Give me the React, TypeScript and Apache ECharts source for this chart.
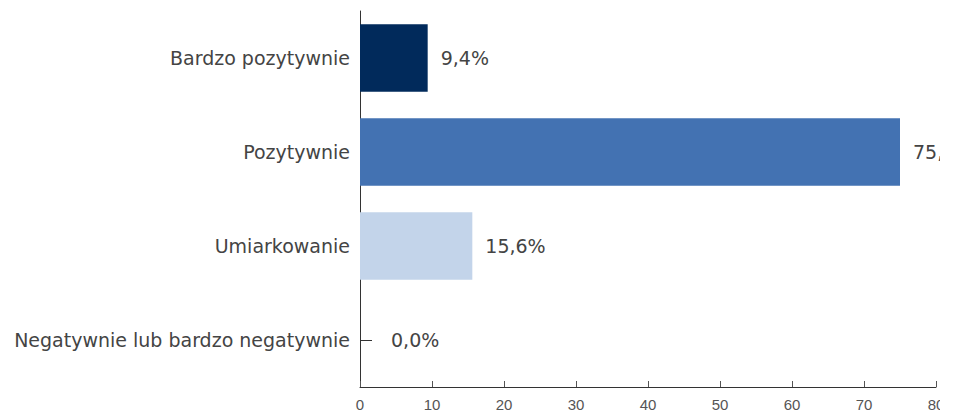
import React, { useEffect, useRef } from "react";
import * as echarts from "echarts";

const categories = [
  "Bardzo pozytywnie",
  "Pozytywnie",
  "Umiarkowanie",
  "Negatywnie lub bardzo negatywnie",
];
const values = [9.4, 75.0, 15.6, 0.0];
const barColors = ["#012a5b", "#4372b2", "#c3d4ea"];
const xTicks = { min: 0, max: 80, interval: 10 };

const FONT = "DejaVu Sans";
const TICK_FONT = "Liberation Sans";

export default function App() {
  const ref = useRef<HTMLDivElement>(null);
  useEffect(() => {
    if (!ref.current) return;
    const chart = echarts.init(ref.current, undefined, { renderer: "svg" });
    chart.setOption({
      animation: false,
      backgroundColor: "#ffffff",
      grid: {
        left: 360,
        right: 4,
        top: 11,
        bottom: 27,
        containLabel: false,
        outerBoundsMode: "none",
      },
      xAxis: {
        type: "value",
        min: xTicks.min,
        max: xTicks.max,
        interval: xTicks.interval,
        splitLine: { show: false },
        axisLine: { show: true, lineStyle: { color: "#333333", width: 1 } },
        axisTick: { show: true, inside: true, length: 6, lineStyle: { color: "#555555" } },
        axisLabel: { color: "#555555", fontFamily: TICK_FONT, fontSize: 15, margin: 10 },
      },
      yAxis: {
        type: "category",
        inverse: true,
        data: categories,
        axisLine: { show: true, lineStyle: { color: "#333333", width: 1 } },
        axisTick: { show: true, inside: true, alignWithLabel: true, length: 12, lineStyle: { color: "#333333" } },
        axisLabel: { color: "#444444", fontFamily: FONT, fontSize: 19, margin: 10 },
      },
      series: [
        {
          type: "bar",
          data: values.map((v, i) => ({
            value: v,
            itemStyle: { color: barColors[i % barColors.length] },
            label: { distance: v === 0 ? 31 : 13 },
          })),
          barCategoryGap: "28%",
          label: {
            show: true,
            position: "right",
            color: "#444444",
            fontFamily: FONT,
            fontSize: 19,
            formatter: (p: any) => p.value.toFixed(1).replace(".", ",") + "%",
          },
        },
      ],
    });
    return () => chart.dispose();
  }, []);
  return (
    <div
      ref={ref}
      style={{ position: "fixed", left: 0, top: 0, width: 940, height: 414 }}
    />
  );
}
